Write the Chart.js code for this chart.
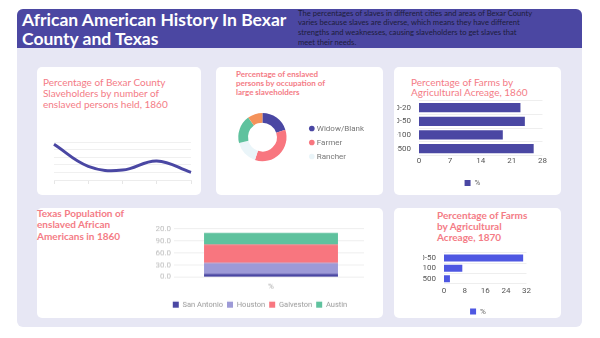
<!DOCTYPE html>
<html><head><meta charset="utf-8">
<script src="https://cdn.jsdelivr.net/npm/chart.js@4.4.0/dist/chart.umd.min.js"></script>
<style>
html,body{margin:0;padding:0;background:#fff;width:600px;height:338px;overflow:hidden;font-family:Lato,sans-serif;}
#frame{position:absolute;left:17px;top:9px;width:565px;height:318px;background:#e7e7f4;border-radius:6px;}
#header{position:absolute;left:17px;top:9px;width:565px;height:39px;background:#4b47a2;border-radius:6px 6px 0 0;}
#htitle{position:absolute;left:22px;top:10px;color:#fff;font-weight:700;font-size:17.5px;line-height:19px;white-space:nowrap;}
#hdesc{position:absolute;left:298px;top:8.5px;color:#1d1d3b;font-size:7.65px;line-height:9.7px;white-space:nowrap;}
.card{position:absolute;background:#fff;border-radius:5px;}
.ct{position:absolute;color:#f47c86;white-space:nowrap;}
.box{position:absolute;}
</style>
</head><body>
<div id="frame"></div>
<div id="header"></div>
<div id="htitle">African American History In Bexar<br>County and Texas</div>
<div id="hdesc">The percentages of slaves in different cities and areas of Bexar County<br>varies because slaves are diverse, which means they have different<br>strengths and weaknesses, causing slaveholders to get slaves that<br>meet their needs.</div>

<div class="card" style="left:37px;top:67px;width:164px;height:128px;"></div>
<div class="card" style="left:216px;top:67px;width:167px;height:128px;"></div>
<div class="card" style="left:394px;top:67px;width:167px;height:128px;"></div>
<div class="card" style="left:37px;top:208px;width:346px;height:110px;"></div>
<div class="card" style="left:394px;top:208px;width:167px;height:110px;"></div>

<div class="ct" style="left:43px;top:77px;font-size:10px;line-height:11px;">Percentage of Bexar County<br>Slaveholders by number of<br>enslaved persons held, 1860</div>
<div class="ct" style="left:236px;top:69.5px;font-size:8px;line-height:9.2px;font-weight:700;">Percentage of enslaved<br>persons by occupation of<br>large slaveholders</div>
<div class="ct" style="left:411px;top:76.5px;font-size:10px;line-height:10.7px;">Percentage of Farms by<br>Agricultural Acreage, 1860</div>
<div class="ct" style="left:37px;top:207.5px;font-size:10px;line-height:11.5px;font-weight:700;">Texas Population of<br>enslaved African<br>Americans in 1860</div>
<div class="ct" style="left:437px;top:209.5px;font-size:10px;line-height:11.2px;font-weight:700;">Percentage of Farms<br>by Agricultural<br>Acreage, 1870</div>

<div class="box" style="left:50px;top:136px;width:146px;height:48px;"><canvas id="c1"></canvas></div>
<div class="box" style="left:220px;top:113px;width:154px;height:59px;"><canvas id="c2"></canvas></div>
<div class="box" style="left:397px;top:88px;width:151px;height:109px;"><canvas id="c3"></canvas></div>
<div class="box" style="left:156px;top:221px;width:212px;height:96.5px;"><canvas id="c4"></canvas></div>
<div class="box" style="left:423px;top:239.5px;width:110px;height:85.5px;"><canvas id="c5"></canvas></div>

<script>
// ---- data ----
const lineLabels = ['1', '2-4', '5-9', '10-19', '20+'];
const lineValues = [47, 18, 13, 25, 10];
const lineTicks = [0, 10, 20, 30, 40, 50];

const occLabels = ['Widow/Blank', 'Farmer', 'Rancher', 'Merchant', 'Other'];
const occValues = [20, 35, 16, 19, 10];

const farm1860Labels = ['10-20', '20-50', '50-100', '100-500'];
const farm1860Values = [23, 24, 19, 26];
const farm1860Ticks = [0, 7, 14, 21, 28];

const cityCategory = ['%'];
const cityLabels = ['San Antonio', 'Houston', 'Galveston', 'Austin'];
const cityValues = [8, 27, 46, 29];
const cityTicks = [0, 30, 60, 90, 120];

const farm1870Labels = ['20-50', '50-100', '100-500'];
const farm1870Values = [30.7, 7.1, 2.3];
const farm1870Ticks = [0, 8, 16, 24, 32];

// ---- styling ----
const NAVY = '#4a47a3', LAV = '#9d9ad7', PINK = '#f8767f', GREEN = '#5fc29e', ORANGE = '#f4925a', PALE = '#eaf5f9', BLUE = '#4e57e2';
Chart.defaults.font.family = 'Roboto, sans-serif';
Chart.defaults.font.size = 8;
Chart.defaults.animation = false;
Chart.defaults.responsive = true;
Chart.defaults.maintainAspectRatio = false;
Chart.defaults.plugins.tooltip.enabled = false;

const step = t => t[1] - t[0];

new Chart(document.getElementById('c1'), {
  type: 'line',
  data: { labels: lineLabels, datasets: [{ data: lineValues, borderColor: NAVY, borderWidth: 3, tension: 0.4, pointRadius: 0, fill: false }] },
  options: {
    layout: { padding: { left: 4, right: 5, top: 6, bottom: 0 } },
    plugins: { legend: { display: false } },
    scales: {
      x: { ticks: { display: false }, grid: { drawOnChartArea: false, tickLength: 4, color: '#e6e6e6' }, border: { color: '#ececec' } },
      y: { min: lineTicks[0], max: lineTicks[lineTicks.length - 1], ticks: { display: false, stepSize: step(lineTicks) }, grid: { drawTicks: false, color: '#f0f0f0' }, border: { display: false } }
    }
  }
});

new Chart(document.getElementById('c2'), {
  type: 'doughnut',
  data: { labels: occLabels, datasets: [{ data: occValues, backgroundColor: [NAVY, PINK, PALE, GREEN, ORANGE], borderWidth: 0 }] },
  options: {
    cutout: '60%',
    plugins: {
      legend: { position: 'right', labels: { usePointStyle: true, pointStyle: 'circle', boxWidth: 2, boxHeight: 4, padding: 6, color: '#777', font: { size: 8 }, filter: (it) => it.index < 3 } },
      title: { display: true, text: '', position: 'bottom', fullSize: false, padding: 0, font: { size: 9 } }
    }
  }
});

new Chart(document.getElementById('c3'), {
  type: 'bar',
  data: { labels: farm1860Labels, datasets: [{ label: '%', data: farm1860Values, backgroundColor: NAVY, barPercentage: 0.85, categoryPercentage: 0.8 }] },
  options: {
    indexAxis: 'y',
    plugins: { legend: { position: 'bottom', labels: { boxWidth: 6, boxHeight: 6, padding: 12, color: '#666', font: { size: 8 } } } },
    scales: {
      x: { min: farm1860Ticks[0], max: farm1860Ticks[farm1860Ticks.length - 1], ticks: { stepSize: step(farm1860Ticks), color: '#555', padding: 1 }, grid: { display: false, drawTicks: false }, border: { display: false } },
      y: { ticks: { color: '#555', padding: 8, autoSkip: false }, grid: { drawTicks: false, color: '#eeeeee' }, border: { display: false }, afterFit: a => { a.width = 22; } }
    }
  }
});

new Chart(document.getElementById('c4'), {
  type: 'bar',
  data: {
    labels: cityCategory,
    datasets: cityLabels.map((name, i) => ({ label: name, data: [cityValues[i]], backgroundColor: [NAVY, LAV, PINK, GREEN][i] }))
  },
  options: {
    layout: { padding: { right: 4 } },
    plugins: { legend: { position: 'bottom', labels: { boxWidth: 6, boxHeight: 6, padding: 4, color: '#999', font: { size: 7.5 } } } },
    scales: {
      x: { stacked: true, ticks: { color: '#aaa', padding: 5 }, grid: { display: false, drawTicks: false }, border: { display: false } },
      y: { stacked: true, min: cityTicks[0], max: cityTicks[cityTicks.length - 1], ticks: { stepSize: step(cityTicks), autoSkip: false, color: '#bbb', callback: v => v.toFixed(1) }, grid: { color: '#eeeeee', tickLength: 4 }, border: { display: false }, afterFit: a => { a.width = 22; } }
    }
  }
});

new Chart(document.getElementById('c5'), {
  type: 'bar',
  data: { labels: farm1870Labels, datasets: [{ label: '%', data: farm1870Values, backgroundColor: BLUE, barPercentage: 0.85, categoryPercentage: 0.8 }] },
  options: {
    indexAxis: 'y',
    plugins: { legend: { position: 'bottom', labels: { boxWidth: 6, boxHeight: 6, padding: 10, color: '#666', font: { size: 8 } } } },
    scales: {
      x: { min: farm1870Ticks[0], max: farm1870Ticks[farm1870Ticks.length - 1], ticks: { stepSize: step(farm1870Ticks), color: '#555', padding: 2 }, grid: { display: false, drawTicks: false }, border: { display: false } },
      y: { ticks: { color: '#555', padding: 8, autoSkip: false }, grid: { drawTicks: false, color: '#eeeeee' }, border: { display: false }, afterFit: a => { a.width = 21; } }
    }
  }
});
</script>
</body></html>
